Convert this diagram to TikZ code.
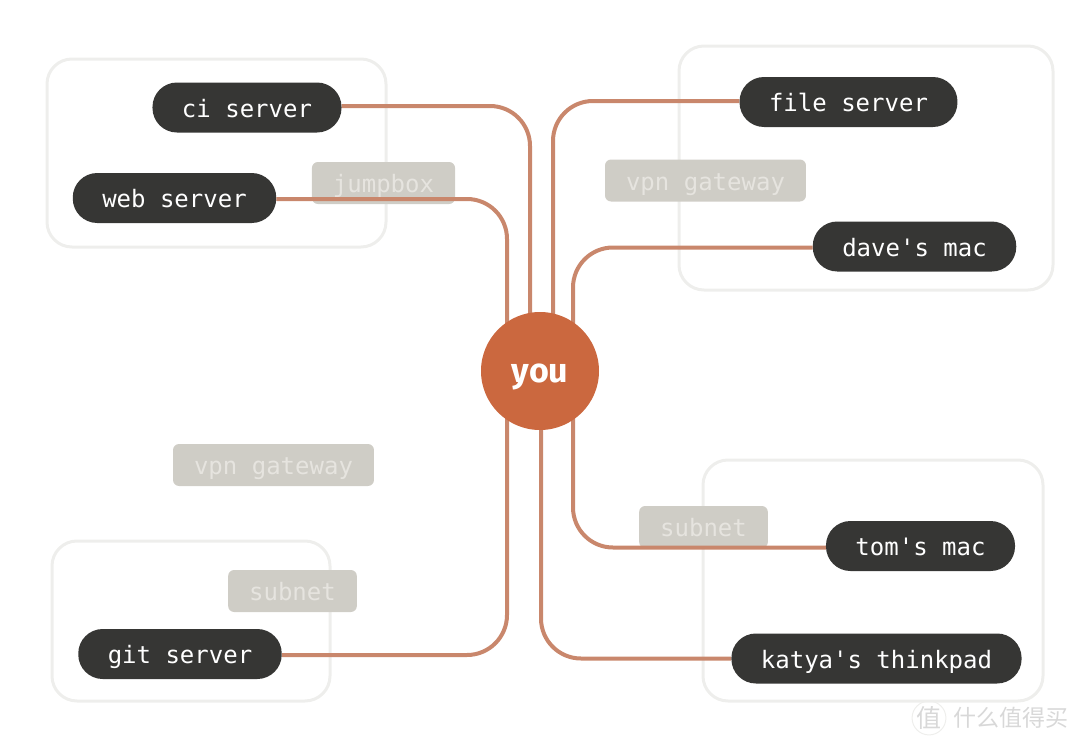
\documentclass[tikz,border=0pt]{standalone}
\usepackage{fontspec}
\usepackage{tikz}
\usetikzlibrary{backgrounds}
\setmainfont{Fira Sans}
\setmonofont{DejaVu Sans Mono}
\newfontfamily\cjk{Noto Sans CJK SC}
\definecolor{pill}{HTML}{363634}
\definecolor{rust}{HTML}{CB683F}
\definecolor{wire}{HTML}{C9876C}
\definecolor{hop}{HTML}{CFCDC6}
\definecolor{hoptext}{HTML}{E6E4DF}
\definecolor{zone}{HTML}{EEEEEC}
\definecolor{mark}{HTML}{D8D8D8}

\begin{document}
\begin{tikzpicture}[x=1pt,y=-1pt,
    host/.style={fill=pill,text=white,rounded corners=24.5pt,inner xsep=29.5pt,inner ysep=0pt,minimum height=50pt,text height=19pt,text depth=0pt,font=\ttfamily\fontsize{24}{28}\selectfont},
    hopbox/.style={fill=hop,text=hoptext,rounded corners=6pt,inner xsep=21pt,inner ysep=0pt,minimum height=42pt,text height=19pt,text depth=0pt,font=\ttfamily\fontsize{24}{28}\selectfont},
    zonebox/.style={draw=zone,line width=3pt,rounded corners=25pt},
    link/.style={draw=wire,line width=4pt,rounded corners=40pt}]
  \useasboundingbox (0,0) rectangle (1080,744);
  \node (you) [circle,fill=rust,text=white,minimum size=118pt,inner sep=0pt,text height=23pt,text depth=0pt,font=\bfseries\fontsize{34}{40}\selectfont] at (540,371) {you};
  \node (ci) [host] at (247,107.5) {ci server};
  \node (web) [host] at (174.5,198) {web server};
  \node (git) [host] at (180,654) {git server};
  \node (file) [host] at (848.5,102) {file server};
  \node (dave) [host] at (914.5,246.5) {dave's mac};
  \node (tom) [host] at (920.5,546) {tom's mac};
  \node (katya) [host] at (876.5,658.5) {katya's thinkpad};
  \node (stamp) [circle,draw=zone,line width=1pt,text=mark,minimum size=33pt,inner sep=0pt,font=\cjk\fontsize{25}{28}\selectfont] at (929,718) {值};
  \node (brand) [text=mark,anchor=west,inner sep=0pt,font=\cjk\fontsize{23}{27}\selectfont] at (953,718) {什么值得买};

  \begin{scope}[on background layer]
    \draw[zonebox] (47,59) rectangle (386,247);
    \draw[zonebox] (679,46) rectangle (1053,290);
    \draw[zonebox] (703,460) rectangle (1043,701);
    \draw[zonebox] (52,541) rectangle (330,701);
    \node (jumpbox) [hopbox] at (383.5,183) {jumpbox};
    \node (vpnright) [hopbox] at (705.5,180.5) {vpn gateway};
    \node (vpnleft) [hopbox] at (273.5,465) {vpn gateway};
    \node (subnetright) [hopbox] at (703.5,527) {subnet};
    \node (subnetleft) [hopbox] at (292.5,591) {subnet};
    \path[link] ([yshift=1.5pt]ci.east) -| ([xshift=-10pt]you.center);
    \path[link] ([yshift=-1pt]web.east) -| ([xshift=-33pt]you.center);
    \path[link] ([yshift=-1pt]git.east) -| ([xshift=-33pt]you.center);
    \path[link] ([yshift=1pt]file.west) -| ([xshift=13pt]you.center);
    \path[link] ([yshift=-1pt]dave.west) -| ([xshift=33pt]you.center);
    \path[link] ([yshift=-1.5pt]tom.west) -| ([xshift=33pt]you.center);
    \path[link] (katya.west) -| ([xshift=1pt]you.center);
  \end{scope}
\end{tikzpicture}
\end{document}
